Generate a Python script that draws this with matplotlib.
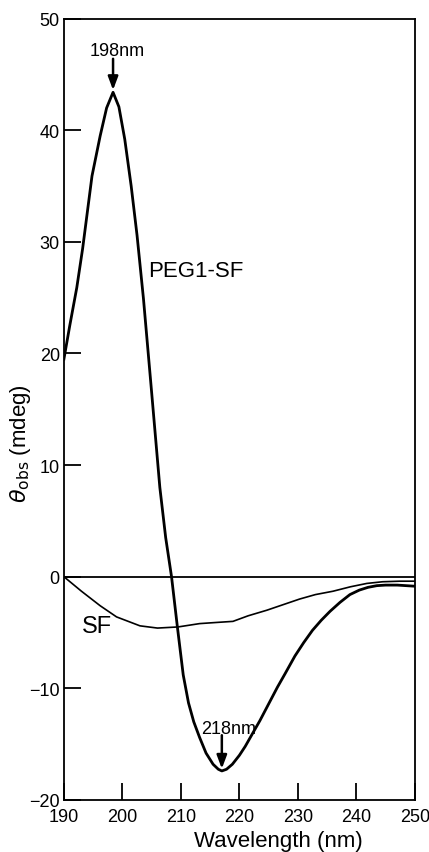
import matplotlib.pyplot as plt

plt.rcParams["font.family"] = ["Liberation Sans", "DejaVu Sans"]

# PEG1-SF spectrum
peg_wl = [190, 191, 192.2, 193.2, 194.8, 196.2, 197.3, 198.4, 199.4, 200.4,
          201.5, 202.5, 203.6, 205.0, 206.4, 207.4, 208.4, 209.4, 210.4, 211.3,
          212.2, 213.2, 214.3, 215.5, 216.4, 217.0, 217.8, 218.8, 220.0, 221.0,
          222.3, 223.5, 225.0, 226.5, 227.8, 229.5, 231.0, 232.5, 234.0, 235.5,
          237.2, 238.9, 240.5, 242.0, 243.5, 245.0, 247.0, 250.0]
peg_val = [19.5, 22.5, 25.9, 29.4, 35.9, 39.5, 42.0, 43.4, 42.1, 39.2,
           35.0, 30.6, 24.9, 16.5, 8.0, 3.5, 0.0, -4.5, -8.8, -11.3,
           -13.0, -14.4, -15.8, -16.8, -17.25, -17.4, -17.25, -16.8, -16.0, -15.2,
           -14.0, -12.9, -11.4, -9.9, -8.7, -7.1, -5.9, -4.8, -3.9, -3.1,
           -2.3, -1.6, -1.2, -0.95, -0.8, -0.75, -0.75, -0.85]

# SF spectrum
sf_wl = [190, 193, 196.2, 199, 203, 206, 209.5, 213.2, 216, 218.9,
         221.5, 224.7, 227.5, 230.3, 233, 236, 239, 241.8, 244.5, 247.4, 250]
sf_val = [0.0, -1.3, -2.6, -3.6, -4.4, -4.6, -4.5, -4.2, -4.1, -4.0,
          -3.5, -3.0, -2.5, -2.0, -1.6, -1.3, -0.9, -0.6, -0.45, -0.4, -0.4]

x_ticks = [190, 200, 210, 220, 230, 240, 250]
y_ticks = [-20, -10, 0, 10, 20, 30, 40, 50]

fig = plt.figure(figsize=(4.29, 8.53), dpi=100)
ax = fig.add_axes([0.149, 0.061, 0.818, 0.916])

ax.plot(peg_wl, peg_val, color="black", lw=2.0)
ax.plot(sf_wl, sf_val, color="black", lw=1.2)
ax.axhline(0, color="black", lw=1.3)

ax.set_xlim(190, 250)
ax.set_ylim(-20, 50)
ax.set_xticks(x_ticks)
ax.set_yticks(y_ticks)
ax.tick_params(direction="in", length=12, width=1.3, labelsize=13)
ax.tick_params(axis="x", pad=6)
ax.tick_params(axis="y", pad=3)
for s in ax.spines.values():
    s.set_linewidth(1.3)

ax.set_xlabel("Wavelength (nm)", fontsize=16)
ax.xaxis.set_label_coords(0.61, -0.038)
ax.set_ylabel(r"$\theta_{\mathrm{obs}}$ (mdeg)", fontsize=16)
ax.yaxis.set_label_coords(-0.088, 0.458)

ax.text(204.4, 27.4, "PEG1-SF", fontsize=16, ha="left", va="center")
ax.text(193.0, -4.4, "SF", fontsize=17, ha="left", va="center")

arrow = dict(arrowstyle="-|>,head_width=0.3,head_length=0.8",
             color="black", lw=1.8, shrinkA=0, shrinkB=0)
ax.text(199.1, 47.1, "198nm", fontsize=13, ha="center", va="center")
ax.annotate("", xy=(198.4, 43.6), xytext=(198.4, 46.4), arrowprops=arrow)
ax.text(218.1, -13.6, "218nm", fontsize=13, ha="center", va="center")
ax.annotate("", xy=(217.0, -17.2), xytext=(217.0, -14.2), arrowprops=arrow)

fig.savefig("out.png", dpi=100)
